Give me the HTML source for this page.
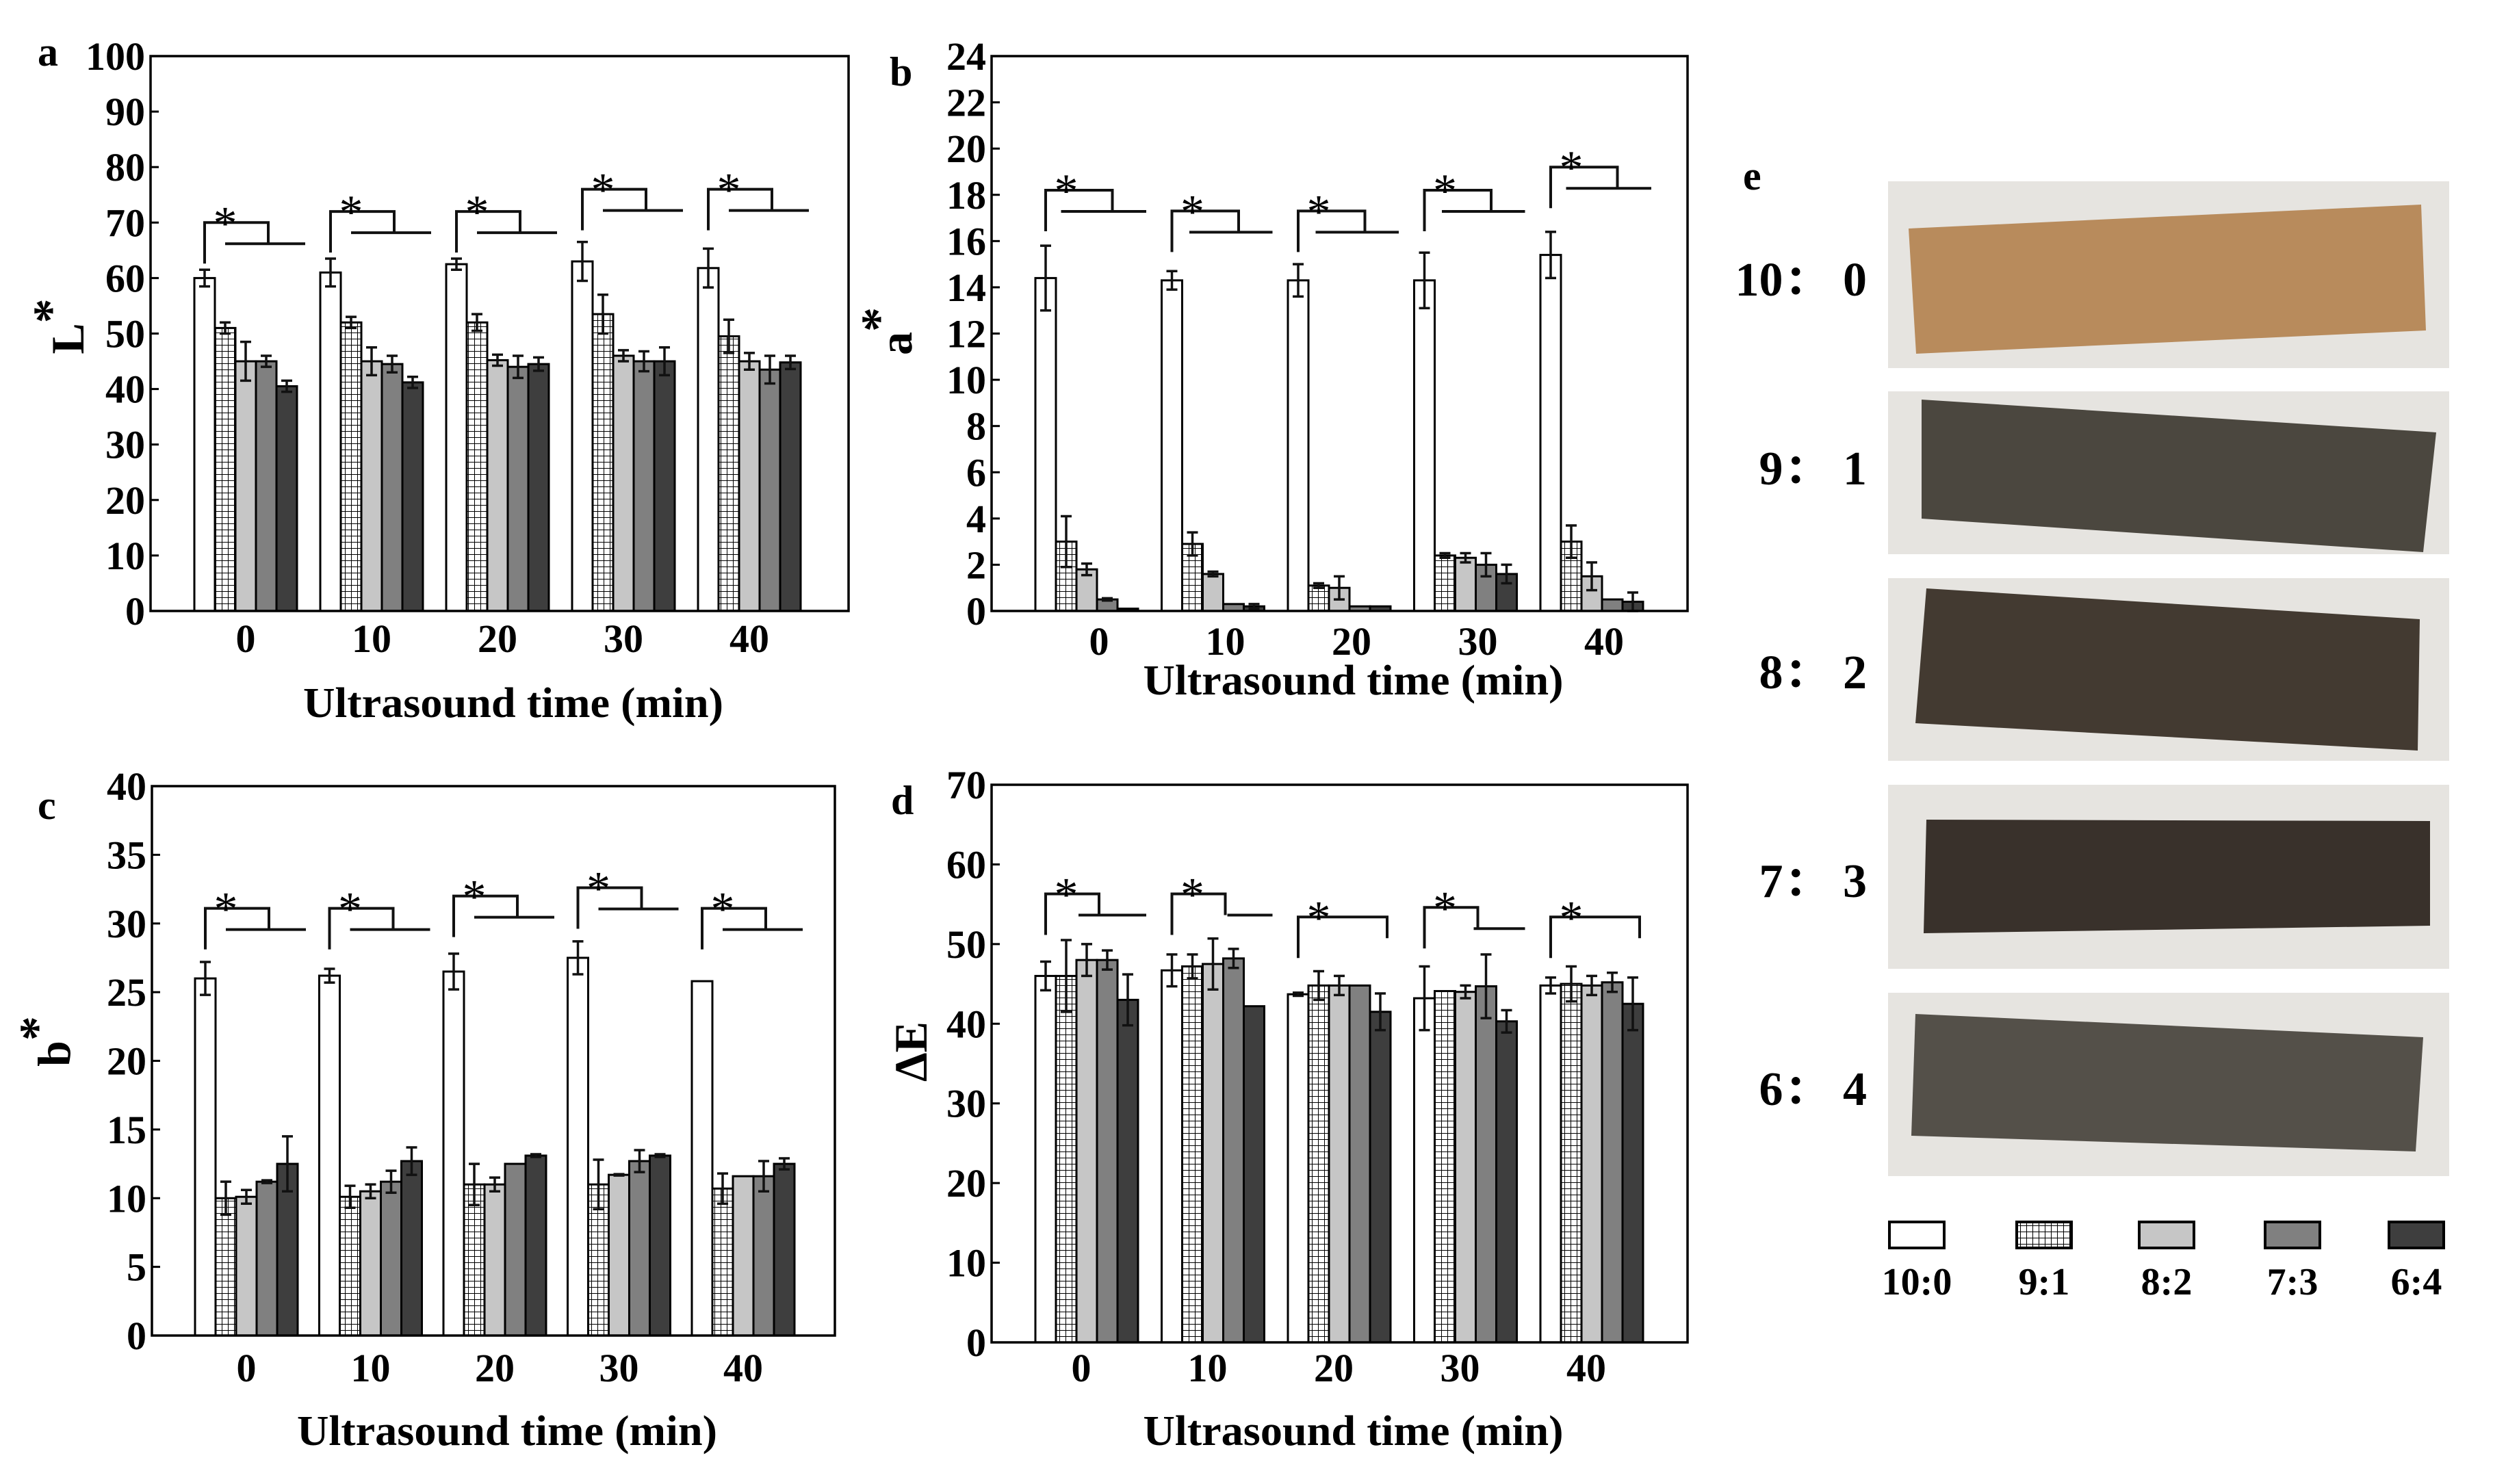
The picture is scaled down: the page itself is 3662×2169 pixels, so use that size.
<!DOCTYPE html>
<html><head><meta charset="utf-8"><style>
html,body{margin:0;padding:0;background:#fff;overflow:hidden;}
svg{display:block;font-family:"Liberation Serif",serif;}
</style></head><body>
<svg id="fig" width="3662" height="2169" viewBox="0 0 3662 2169" xmlns="http://www.w3.org/2000/svg">
<defs>
<pattern id="grid" width="9" height="9" patternUnits="userSpaceOnUse">
<rect width="9" height="9" fill="#fff"/>
<path d="M0 0H9M0 0V9" stroke="#000" stroke-width="2"/>
</pattern>
</defs>
</svg>
<script>
const categories = ["0","10","20","30","40"];
const ratios = ["10:0","9:1","8:2","7:3","6:4"];
const lValues = [[60,51,45,45,40.5],[61,52,45,44.5,41.2],[62.5,52,45.2,44,44.5],[63,53.5,46,45,45],[61.8,49.5,45,43.5,44.8]];
const lErr = [[1.5,1,3.5,1,1],[2.5,1,2.5,1.5,1],[1,1.5,1,2,1.2],[3.5,3.5,1,1.8,2.5],[3.5,3,1.5,2.5,1.2]];
const aValues = [[14.4,3.0,1.8,0.5,0.1],[14.3,2.9,1.6,0.3,0.2],[14.3,1.1,1.0,0.2,0.2],[14.3,2.4,2.3,2.0,1.6],[15.4,3.0,1.5,0.5,0.4]];
const aErr = [[1.4,1.1,0.25,0.05,0],[0.4,0.5,0.1,0,0.1],[0.7,0.1,0.5,0,0],[1.2,0.1,0.2,0.5,0.4],[1.0,0.7,0.6,0,0.4]];
const bValues = [[26,10,10.1,11.2,12.5],[26.2,10.1,10.5,11.2,12.7],[26.5,11,11,12.5,13.1],[27.5,11,11.7,12.7,13.1],[25.8,10.7,11.6,11.6,12.5]];
const bErr = [[1.2,1.2,0.5,0.1,2],[0.5,0.8,0.5,0.8,1],[1.3,1.5,0.5,0,0.1],[1.2,1.8,0.05,0.8,0.1],[0,1.1,0,1.1,0.4]];
const eValues = [[46,46,48,48,43],[46.7,47.2,47.5,48.2,42.2],[43.7,44.8,44.8,44.8,41.5],[43.2,44.1,44,44.7,40.3],[44.8,45,44.8,45.2,42.5]];
const eErr = [[1.8,4.5,2,1.2,3.2],[2,1.5,3.2,1.2,0],[0.2,1.8,1.2,0,2.3],[4,0,0.8,4,1.4],[1,2.2,1.2,1.2,3.3]];
const lBracket = [70,72,72,76,76];
const aBracket = [18.2,17.3,17.3,18.2,19.2];
const bBracket = [31.1,31.1,32,32.6,31.1];
const eBracket = [56.3,56.3,53.4,54.6,53.4];
const yTicksL = [0,10,20,30,40,50,60,70,80,90,100];
const yTicksA = [0,2,4,6,8,10,12,14,16,18,20,22,24];
const yTicksB = [0,5,10,15,20,25,30,35,40];
const yTicksE = [0,10,20,30,40,50,60,70];

const fills = ["#fff","url(#grid)","#c6c6c6","#808080","#3e3e3e"];
const NS = "http://www.w3.org/2000/svg";
const svg = document.getElementById("fig");
function mk(tag, attrs, parent){
  const e = document.createElementNS(NS, tag);
  for (const k in attrs) e.setAttribute(k, attrs[k]);
  (parent||svg).appendChild(e);
  return e;
}

const panels = [
 {id:"a", vals:lValues, err:lErr, br:lBracket, ticks:yTicksL, max:100, L:220,R:1240,T:82,B:893, g0:284, step:184, lblOff:0, lblY:933, titleY:1028, ylab:"L", ysup:"*", yx:100, yy:477, letter:[55,78], brType:["d","d","d","d","d"], lowStart:[0.3,0.3,0.3,0.3,0.3], join:0.72},
 {id:"b", vals:aValues, err:aErr, br:aBracket, ticks:yTicksA, max:24, L:1449,R:2466,T:82,B:893, g0:1513, step:184.5, lblOff:18, lblY:937, titleY:995, ylab:"a", ysup:"*", yx:1310, yy:484, letter:[1300,107], brType:["d","d","d","d","d"], lowStart:[0.25,0.27,0.27,0.27,0.25], join:0.75},
 {id:"c", vals:bValues, err:bErr, br:bBracket, ticks:yTicksB, max:40, L:222,R:1220,T:1149,B:1952, g0:285, step:181.5, lblOff:0, lblY:1999, titleY:2092, ylab:"b", ysup:"*", yx:80, yy:1522, letter:[55,1179], brType:["d","d","d","d","d"], lowStart:[0.3,0.3,0.3,0.3,0.3], join:0.72},
 {id:"d", vals:eValues, err:eErr, br:eBracket, ticks:yTicksE, max:70, L:1449,R:2466,T:1147,B:1962, g0:1513, step:184.5, lblOff:-8, lblY:1999, titleY:2092, ylab:"ΔE", ysup:"", yx:1332, yy:1537, letter:[1302,1172], brType:["d","d","s","d","s"], lowStart:[0.42,0.64,0,0.58,0], join:0.62}
];
const BW = 30;

panels.forEach(p=>{
  const g = mk("g",{});
  
  
  const y = v => p.B - (v/p.max)*(p.B-p.T);
  const gx = i => p.g0 + i*p.step;
  const lt = mk("text",{x:p.letter[0],y:p.letter[1]+18,"font-size":60,"font-weight":"bold"},g);
  lt.textContent = p.id;
  
  
  p.vals.forEach((row,i)=>{
    row.forEach((v,j)=>{
      const x = gx(i)+j*BW;
      const r = mk("rect",{x:x,y:y(v),width:BW,height:p.B-y(v),fill:fills[j],stroke:"#000","stroke-width":3},g);
      
      
      const e = p.err[i][j];
      if (e>0){
        const cx = x+BW/2, y1=y(v+e), y2=y(Math.max(0,v-e));
        const eb = mk("path",{d:`M${cx} ${y1}V${y2}M${cx-8} ${y1}H${cx+8}M${cx-8} ${y2}H${cx+8}`,stroke:"#111","stroke-width":3.5,fill:"none"},g);
        
        
      }
    });
    const w = 5*BW, x0 = gx(i), Ty = y(p.br[i]);
    const vx = x0+BW/2;
    let d;
    if (p.brType[i]==="d"){
      const jx = x0+p.join*w, ly = Ty+31;
      d = `M${vx} ${Ty+60}V${Ty}H${jx}V${ly}M${x0+p.lowStart[i]*w} ${ly}H${x0+w+12}`;
    } else {
      d = `M${vx} ${Ty+60}V${Ty}H${x0+w-5}V${Ty+31}`;
    }
    const bp = mk("path",{d:d,stroke:"#111","stroke-width":4,fill:"none"},g);
    
    
    const st = mk("text",{x:x0+0.3*w,y:Ty+24,"font-size":70,"text-anchor":"middle"},g);
    st.textContent = "*";
    
    
    const xl = mk("text",{x:x0+w/2+p.lblOff,y:p.lblY+20,"font-size":58,"font-weight":"bold","text-anchor":"middle"},g);
    xl.textContent = categories[i];
    
    
  });
  const fr = mk("rect",{x:p.L,y:p.T,width:p.R-p.L,height:p.B-p.T,fill:"none",stroke:"#000","stroke-width":3.5},g);
  
  
  p.ticks.forEach(t=>{
    const ty = y(t);
    const tk = mk("line",{x1:p.L,x2:p.L+12,y1:ty,y2:ty,stroke:"#000","stroke-width":3},g);
    
    
    const tl = mk("text",{x:p.L-8,y:ty+20,"font-size":58,"font-weight":"bold","text-anchor":"end"},g);
    tl.textContent = t;
    
    
  });
  const xt = mk("text",{x:(p.L+p.R)/2+20,y:p.titleY+20,"font-size":62,"font-weight":"bold","text-anchor":"middle",textLength:614,lengthAdjust:"spacingAndGlyphs"},g);
  xt.textContent = "Ultrasound time (min)";
  
  
  const yt = mk("text",{x:0,y:0,"font-size":68,"font-weight":"bold","text-anchor":"middle",transform:`translate(${p.yx+22},${p.yy}) rotate(-90)`},g);
  yt.textContent = p.ylab;
  if (p.ysup){
    const ts = mk("tspan",{dy:-24,"font-size":72},yt);
    ts.textContent = p.ysup;
  }
  
  
});

// panel e
const pe = mk("g",{});


const el = mk("text",{x:2547,y:277,"font-size":60,"font-weight":"bold"},pe);
el.textContent = "e";


const boxes = [[265,538],[572,810],[845,1112],[1147,1416],[1451,1719]];
const stripCols = ["#b88b5c","#4b473f","#433a31","#39312b","#545049"];
const strips = [
 "2789,334 3538,299 3545,483 2800,517",
 "2808,584 3560,632 3541,807 2808,758",
 "2815,860 3536,905 3533,1097 2799,1057",
 "2815,1198 3551,1200 3551,1353 2811,1364",
 "2799,1482 3541,1516 3530,1683 2793,1660"];
const labelCY = [408,684,982,1287,1591];
const photoLabels = ["10\uFF1A 0","9\uFF1A 1","8\uFF1A 2","7\uFF1A 3","6\uFF1A 4"];
boxes.forEach((b,i)=>{
  const r = mk("rect",{x:2759,y:b[0],width:820,height:b[1]-b[0],fill:"#e6e4e0"},pe);
  
  
  const s = mk("polygon",{points:strips[i],fill:stripCols[i]},pe);
  
  
  const t = mk("text",{x:2728,y:labelCY[i]+24,"font-size":70,"font-weight":"bold","text-anchor":"end","font-family":"Liberation Serif, Noto Serif CJK SC, serif"},pe);
  t.textContent = photoLabels[i];
  
  
});
const legX = [2761,2947,3126,3310,3491];
ratios.forEach((r,i)=>{
  const s = mk("rect",{x:legX[i],y:1786,width:80,height:38,fill:fills[i],stroke:"#000","stroke-width":4},pe);
  
  
  const t = mk("text",{x:legX[i]+40,y:1892,"font-size":56,"font-weight":"bold","text-anchor":"middle"},pe);
  t.textContent = r;
  
  
});
</script>
</body></html>
